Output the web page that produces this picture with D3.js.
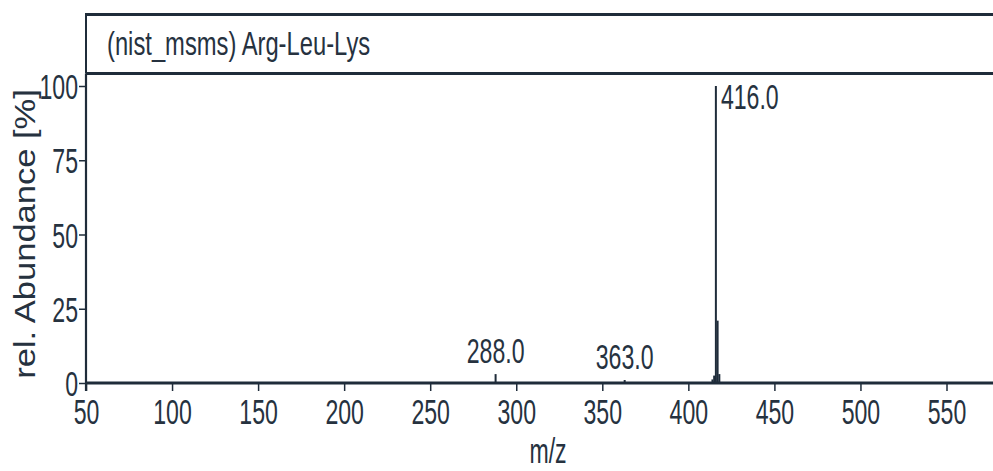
<!DOCTYPE html>
<html>
<head>
<meta charset="utf-8">
<script src="https://cdn.jsdelivr.net/npm/d3@7/dist/d3.min.js"></script>
<style>
  html, body { margin: 0; padding: 0; background: #ffffff; }
  svg { display: block; }
  text { font-family: "Liberation Sans", Arial, sans-serif; fill: #26323f; }
</style>
</head>
<body>
<svg id="chart" width="993" height="471"></svg>
<script>
// Spectrum: Arg-Leu-Lys (nist_msms)
const titleText = "(nist_msms) Arg-Leu-Lys";
const peakMz = [288, 363, 414, 415, 416, 417, 418];
const peakAbundance = [3, 1, 1.2, 2.5, 100, 21, 3];
const labelMz = [288, 363, 416];
const labelText = ["288.0", "363.0", "416.0"];
const xTickValues = [50, 100, 150, 200, 250, 300, 350, 400, 450, 500, 550];
const yTickValues = [0, 25, 50, 75, 100];
const xAxisTitle = "m/z";
const yAxisTitle = "rel. Abundance [%]";

const ink = "#1f2c3a";
const squeeze = 0.66; // narrow glyph width used for horizontal text
const fs = 35;

const svg = d3.select("#chart");

const left = 86, plotBottom = 383, frameTop = 14.5, titleBottom = 73.5;
const x = d3.scaleLinear().domain([50, 590]).range([left, left + 1.721 * 540]);
const y = d3.scaleLinear().domain([0, 100]).range([plotBottom, 86]);

// Title box
svg.append("line").attr("x1", left).attr("x2", 1000)
  .attr("y1", frameTop).attr("y2", frameTop)
  .attr("stroke", ink).attr("stroke-width", 3);
svg.append("line").attr("x1", left).attr("x2", 1000)
  .attr("y1", titleBottom).attr("y2", titleBottom)
  .attr("stroke", ink).attr("stroke-width", 3);
svg.append("line").attr("x1", left).attr("x2", left)
  .attr("y1", frameTop - 1.5).attr("y2", titleBottom)
  .attr("stroke", ink).attr("stroke-width", 2);
svg.append("text")
  .attr("transform", `translate(107,55) scale(0.72,1)`)
  .attr("font-size", 33)
  .text(titleText);

// Axes
const yAxis = svg.append("g")
  .attr("transform", `translate(${left},0)`)
  .call(d3.axisLeft(y).tickValues(yTickValues).tickSize(7).tickPadding(2).tickSizeOuter(0));
yAxis.select(".domain").attr("d", `M0,${titleBottom}V${plotBottom + 8}`)
  .attr("stroke", ink).attr("stroke-width", 2.2);
yAxis.selectAll(".tick line").attr("stroke", ink).attr("stroke-width", 1.5);
yAxis.selectAll(".tick text")
  .attr("font-size", fs).attr("fill", "#26323f")
  .attr("font-family", '"Liberation Sans", Arial, sans-serif')
  .attr("x", -8 / squeeze).attr("dy", "0.36em")
  .attr("transform", `scale(${squeeze},1)`);

const xAxis = svg.append("g")
  .attr("transform", `translate(0,${plotBottom})`)
  .call(d3.axisBottom(x).tickValues(xTickValues).tickSize(8).tickPadding(4).tickSizeOuter(0));
xAxis.select(".domain").attr("d", `M${left},0H1000`)
  .attr("stroke", ink).attr("stroke-width", 3);
xAxis.selectAll(".tick line").attr("stroke", ink).attr("stroke-width", 1.5);
xAxis.selectAll(".tick text")
  .attr("font-size", fs).attr("fill", "#26323f")
  .attr("font-family", '"Liberation Sans", Arial, sans-serif')
  .attr("y", 16).attr("dy", "0.71em")
  .attr("transform", `scale(${squeeze},1)`);

// Axis titles
svg.append("text")
  .attr("transform", `translate(548,463) scale(${squeeze},1)`)
  .attr("text-anchor", "middle")
  .attr("font-size", fs)
  .text(xAxisTitle);
svg.append("text")
  .attr("transform", `translate(35,234) rotate(-90) scale(1,0.84)`)
  .attr("text-anchor", "middle")
  .attr("font-size", 34.5)
  .text(yAxisTitle);

// Peaks as stems
svg.append("g").selectAll("line")
  .data(peakMz.map((m, i) => ({ mz: m, ab: peakAbundance[i] })))
  .join("line")
  .attr("x1", d => x(d.mz)).attr("x2", d => x(d.mz))
  .attr("y1", y(0)).attr("y2", d => y(d.ab))
  .attr("stroke", ink).attr("stroke-width", 2);

// Peak labels
const labels = labelMz.map((m, i) => ({ mz: m, text: labelText[i], ab: peakAbundance[peakMz.indexOf(m)] }));
svg.append("g").selectAll("text")
  .data(labels)
  .join("text")
  .attr("font-size", fs)
  .attr("text-anchor", d => d.ab > 90 ? "start" : "middle")
  .attr("transform", d => d.ab > 90
    ? `translate(${x(d.mz) + 5},${y(d.ab) + 23}) scale(${squeeze},1)`
    : `translate(${x(d.mz)},${y(d.ab) - 11}) scale(${squeeze},1)`)
  .text(d => d.text);
</script>
</body>
</html>
